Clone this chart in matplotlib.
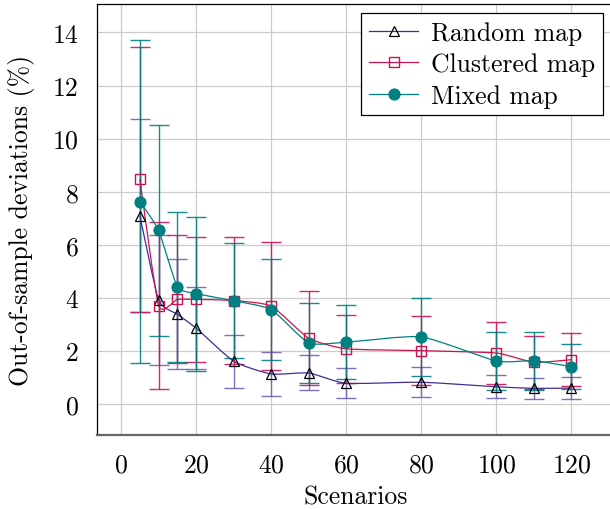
import matplotlib
matplotlib.use("Agg")
import matplotlib.pyplot as plt
import numpy as np
from matplotlib.path import Path
from matplotlib.patches import PathPatch
from matplotlib.lines import Line2D

plt.rcParams['font.family'] = ['cmr10', 'DejaVu Serif']
plt.rcParams['mathtext.fontset'] = 'cm'
plt.rcParams['axes.formatter.use_mathtext'] = True

# data
scenarios = [5, 10, 15, 20, 30, 40, 50, 60, 80, 100, 110, 120]

random_mean = [7.10, 3.92, 3.38, 2.86, 1.61, 1.13, 1.17, 0.78, 0.82, 0.65, 0.59, 0.60]
random_err = [3.65, 2.45, 2.07, 1.55, 1.00, 0.83, 0.66, 0.56, 0.57, 0.43, 0.39, 0.40]

clustered_mean = [8.47, 3.71, 3.94, 3.94, 3.90, 3.69, 2.48, 2.08, 2.01, 1.92, 1.57, 1.67]
clustered_err = [5.00, 3.15, 2.41, 2.37, 2.40, 2.41, 1.77, 1.27, 1.30, 1.18, 1.00, 1.00]

mixed_mean = [7.63, 6.54, 4.42, 4.16, 3.89, 3.56, 2.30, 2.33, 2.53, 1.62, 1.63, 1.41]
mixed_err = [6.09, 3.97, 2.83, 2.90, 2.17, 1.90, 1.51, 1.40, 1.47, 1.10, 1.10, 0.84]

labels = ['Random map', 'Clustered map', 'Mixed map']

C_RAND = '#3f2e94'
C_CLUS = '#c8144e'
C_MIX = '#008080'
FS = 18.5


def smooth_path(x, y, tension=0.55):
    # bezier curve through the points, like pgfplots "smooth"
    pts = np.column_stack([x, y]).astype(float)
    n = len(pts)
    k = tension / 6.0
    verts = [pts[0]]
    codes = [Path.MOVETO]
    for i in range(n - 1):
        p0 = pts[i - 1] if i > 0 else pts[i]
        p1, p2 = pts[i], pts[i + 1]
        p3 = pts[i + 2] if i + 2 < n else pts[i + 1]
        c1 = p1 + (p2 - p0) * k
        c2 = p2 - (p3 - p1) * k
        verts += [c1, c2, p2]
        codes += [Path.CURVE4] * 3
    return Path(verts, codes)


fig = plt.figure(figsize=(6.1, 5.1), dpi=100)
ax = fig.add_axes([0.1585, 0.1457, 0.849, 0.8439])

series = [
    (random_mean, random_err, C_RAND, '#6d5fb8', dict(marker='^', ms=6.5, mfc='none', mec='black', mew=0.9)),
    (clustered_mean, clustered_err, C_CLUS, '#d0105a', dict(marker='s', ms=7, mfc='none', mec=C_CLUS, mew=1.0)),
    (mixed_mean, mixed_err, C_MIX, C_MIX, dict(marker='o', ms=8, mfc=C_MIX, mec=C_MIX, mew=0.8)),
]

handles = []
for mean, err, lc, ec, mk in series:
    ax.errorbar(scenarios, mean, yerr=err, fmt='none', ecolor=ec, elinewidth=1.0,
                capsize=7, capthick=1.0, alpha=0.9, zorder=2)
    ax.add_patch(PathPatch(smooth_path(scenarios, mean), fill=False, edgecolor=lc,
                           lw=0.9, zorder=3))
    ax.plot(scenarios, mean, ls='none', zorder=4, **mk)
    handles.append(Line2D([], [], color=lc, lw=0.9, **mk))

ax.set_xlim(-6.5, 131.5)
ax.set_ylim(-1.156, 15.06)
ax.set_xticks(range(0, 121, 20))
ax.set_yticks(range(0, 15, 2))
ax.grid(True, color='#cccccc', lw=0.9)
ax.set_axisbelow(True)
ax.tick_params(length=0, labelsize=FS, pad=13)
for s in ax.spines.values():
    s.set_color('black')
    s.set_linewidth(0.9)
ax.spines['bottom'].set_color('#666666')
ax.spines['bottom'].set_linewidth(1.6)

ax.set_xlabel('Scenarios', fontsize=FS, labelpad=6)
ax.set_ylabel('Out-of-sample deviations (%)', fontsize=FS, labelpad=12)

leg = ax.legend(handles, labels, loc='upper right',
                bbox_to_anchor=(0.977, 0.979), fontsize=FS, frameon=True, fancybox=False,
                edgecolor='black', framealpha=1, borderpad=0.3, handlelength=1.9,
                handletextpad=0.5, labelspacing=0.3, borderaxespad=0)
leg.get_frame().set_linewidth(0.9)

fig.savefig('out.png', dpi=100)
